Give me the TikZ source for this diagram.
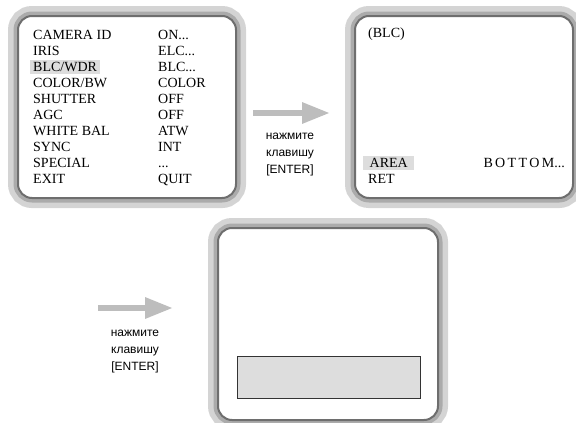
\documentclass[tikz,border=0pt]{standalone}
\usepackage{fontspec}
\setmainfont{Liberation Serif}
\newfontfamily\hintfont{Liberation Sans}
\usepackage{tikz}
\usetikzlibrary{arrows.meta, positioning}
\definecolor{osdGlow}{HTML}{D4D4D4}
\definecolor{osdGlowIn}{HTML}{ABABAB}
\definecolor{osdBorder}{HTML}{6E6E6E}
\definecolor{osdMark}{HTML}{DDDDDD}
\definecolor{osdArrow}{HTML}{BDBDBD}

\begin{document}
\begin{tikzpicture}[
  x=1pt, y=-1pt,
  font=\fontsize{14}{16}\selectfont,
  screen/.style={draw=osdBorder, line width=2pt, rounded corners=14pt, fill=white,
                 preaction={draw=osdGlow, line width=20pt},
                 preaction={draw=osdGlowIn, line width=9pt},
                 inner sep=0pt},
  item/.style={anchor=west, inner xsep=3pt, inner ysep=1pt,
               text height=10pt, text depth=2pt},
  picked/.style={item, fill=osdMark},
  hint/.style={font=\hintfont\fontsize{12}{17}\selectfont, align=center},
  push/.style={-{Triangle[length=28pt, width=20pt]}, line width=6pt, draw=osdArrow}
]
\useasboundingbox (0,0) rectangle (576,423);

% screens
\node[screen, minimum width=218pt, minimum height=182pt] (menu) at (127,107) {};
\node[screen, minimum width=218pt, minimum height=182pt] (blc) at (464,107) {};
\node[screen, minimum width=220pt, minimum height=192pt] (area) at (328,324) {};

% main menu
\node[item] (m1) at (30,35.0) {CAMERA ID};
\node[item] (m2) at (30,51.1) {IRIS};
\node[picked] (m3) at (30,67.2) {BLC/WDR};
\node[item] (m4) at (30,83.3) {COLOR/BW};
\node[item] (m5) at (30,99.4) {SHUTTER};
\node[item] (m6) at (30,115.5) {AGC};
\node[item] (m7) at (30,131.6) {WHITE BAL};
\node[item] (m8) at (30,147.7) {SYNC};
\node[item] (m9) at (30,163.8) {SPECIAL};
\node[item] (m10) at (30,179.9) {EXIT};

\node[item] (v1) at (155,35.0) {ON...};
\node[item] (v2) at (155,51.1) {ELC...};
\node[item] (v3) at (155,67.2) {BLC...};
\node[item] (v4) at (155,83.3) {COLOR};
\node[item] (v5) at (155,99.4) {OFF};
\node[item] (v6) at (155,115.5) {OFF};
\node[item] (v7) at (155,131.6) {ATW};
\node[item] (v8) at (155,147.7) {INT};
\node[item] (v9) at (155,163.8) {...};
\node[item] (v10) at (155,179.9) {QUIT};

% BLC menu
\node[item] (title) at (365,33) {(BLC)};
\node[picked, minimum width=51pt] (areaitem) at (363,163) {AREA};
\node[item] (ret) at (365,179.5) {RET};
\node[item, anchor=east] (bottom) at (568,163) {B\,O\,T\,T\,O\,M...};

% area box
\node[draw=black!80, fill=osdMark, minimum width=183pt, minimum height=42pt] (zone) at (328.5,377) {};

% arrows
\coordinate (p1) at (253,113);
\coordinate (q1) at (330,113);
\coordinate (p2) at (98,308);
\coordinate (q2) at (173,308);
\draw[push] (p1) -- (q1);
\draw[push] (p2) -- (q2);
\node[hint] (enter1) at (290,155) {нажмите\\клавишу\\[0pt][ENTER]};
\node[hint] (enter2) at (135,352) {нажмите\\клавишу\\[0pt][ENTER]};

\end{tikzpicture}
\end{document}
